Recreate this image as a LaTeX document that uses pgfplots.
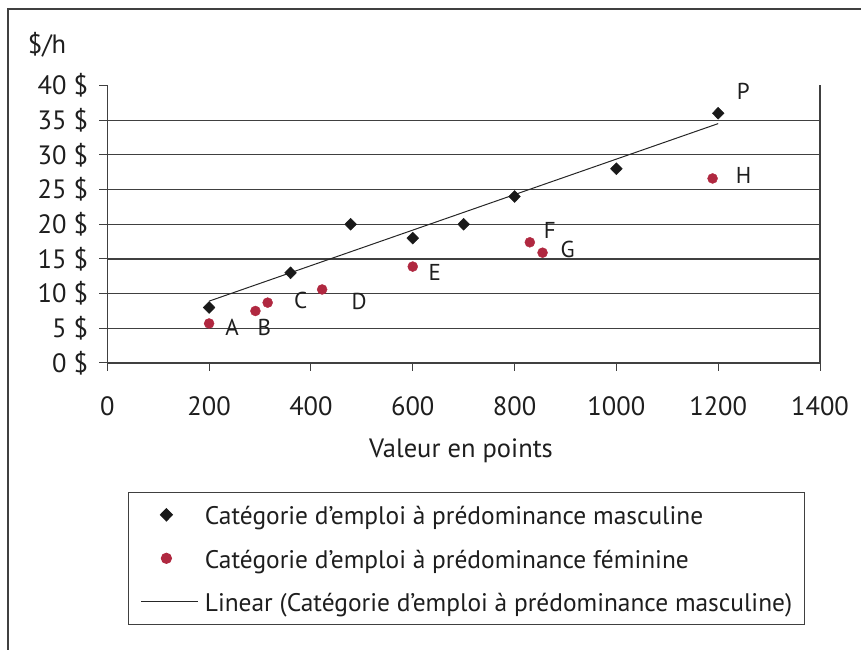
\documentclass[border=0pt]{standalone}
\usepackage{fontspec}
\setmainfont{PT Sans}
\usepackage{pgfplots}
\pgfplotsset{compat=1.18}
\usepackage{pgfplotstable}
\definecolor{fem}{RGB}{176,40,64}
\definecolor{ln}{RGB}{64,64,64}
\definecolor{txt}{RGB}{30,30,30}
\pgfplotsset{
  scatimg/.style={legend image code/.code={\draw[mark repeat=2,mark phase=2,##1] plot coordinates {(0bp,0bp) (25bp,0bp) (57bp,0bp)};}},
  lineimg/.style={legend image code/.code={\draw[##1] (0bp,0bp) -- (57bp,0bp);}},
}

\pgfplotstableread{
x y
200 8
360 13
478 20
600 18
700 20
800 24
1000 28
1200 36
}\male

\pgfplotstableread{
x y lbl dx dy
200 5.7 A 23 -4
291 7.5 B 9 -16
315 8.7 C 33 2
422 10.6 D 37 -12
600 13.9 E 22 -6
830 17.4 F 20 12
855 15.9 G 25 3
1189 26.6 H 31 3
}\female

\pgfplotstableread{
x y lbl dx dy
1200 36 P 25 22
}\plabel

\begin{document}
\fontsize{26.5bp}{31bp}\selectfont
\begin{tikzpicture}
\begin{axis}[
  at={(107.3bp,287bp)}, anchor=south west,
  scale only axis, width=712.7bp, height=277.5bp,
  xmin=0, xmax=1400, ymin=0, ymax=40,
  axis lines*=left,
  axis line style={-, ln, line width=1.2bp},
  xtick={0,200,...,1400}, ytick={0,5,...,40},
  tick align=outside, major tick length=8bp,
  tick style={ln, line width=1bp},
  extra y ticks={5,10,...,35}, extra y tick labels={},
  extra y tick style={grid=major, major tick length=0pt},
  extra x ticks={1400}, extra x tick labels={},
  extra x tick style={grid=major},
  major grid style={ln, line width=1.2bp},
  /pgf/number format/assume math mode=true,
  /pgf/number format/1000 sep={},
  scaled ticks=false,
  tick label style={font=\fontsize{26.5bp}{31bp}\selectfont, text=txt},
  yticklabel={\pgfmathprintnumber{\tick}~\$},
  yticklabel style={inner sep=0pt, anchor=east, xshift=-11bp},
  xticklabel style={inner sep=0pt, anchor=north, yshift=-25.7bp},
  xlabel={Valeur en points},
  xlabel style={at={(axis description cs:0.4963,-0.317)}, anchor=center, text=txt, font=\fontsize{26.5bp}{31bp}\selectfont},
  ylabel={\$/h},
  ylabel style={rotate=-90, at={(axis description cs:-0.0846,1.146)}, anchor=center, text=txt, font=\fontsize{26.5bp}{31bp}\selectfont},
  legend style={at={(axis description cs:0.02947,-0.4638)}, anchor=north west,
    draw=ln, line width=1.2bp, fill=white,
    inner xsep=12bp, inner ysep=10.5bp, row sep=19.5bp,
    nodes={inner sep=0pt, text height=22bp, text depth=2bp, text=txt, font=\fontsize{25.4bp}{30bp}\selectfont},
    /tikz/every odd column/.append style={column sep=6bp}},
  legend cell align=left,
  clip=false,
]
\addplot[only marks, mark=diamond*, mark size=6bp, black!90, mark options={xscale=1.3}, scatimg]
  table[x=x, y=y]{\male};
\addlegendentry{Catégorie d’emploi à prédominance masculine}
\addplot[only marks, mark=*, mark size=5bp, fem, mark options={draw=fem, fill=fem},
  point meta=explicit symbolic,
  visualization depends on={\thisrow{dx}\as\dx},
  visualization depends on={\thisrow{dy}\as\dy},
  nodes near coords,
  every node near coord/.append style={anchor=center, inner sep=0pt, xshift=\dx bp, yshift=\dy bp, text=txt, font=\fontsize{23bp}{27bp}\selectfont},
  scatimg]
  table[x=x, y=y, meta=lbl]{\female};
\addlegendentry{Catégorie d’emploi à prédominance féminine}
\addplot[no markers, line width=1bp, black!85, lineimg]
  table[x=x, y={create col/linear regression={y=y}}]{\male};
\addlegendentry{Linear (Catégorie d’emploi à prédominance masculine)}
\addplot[only marks, mark=none, forget plot,
  point meta=explicit symbolic,
  visualization depends on={\thisrow{dx}\as\dx},
  visualization depends on={\thisrow{dy}\as\dy},
  nodes near coords,
  every node near coord/.append style={anchor=center, inner sep=0pt, xshift=\dx bp, yshift=\dy bp, text=txt, font=\fontsize{23bp}{27bp}\selectfont}]
  table[x=x, y=y, meta=lbl]{\plabel};
\end{axis}
\draw[ln, line width=2bp] (8.3bp,-20bp) -- (8.3bp,641.3bp) -- (900bp,641.3bp);
\pgfresetboundingbox
\useasboundingbox (0,0) rectangle (861bp,650bp);
\end{tikzpicture}
\end{document}
